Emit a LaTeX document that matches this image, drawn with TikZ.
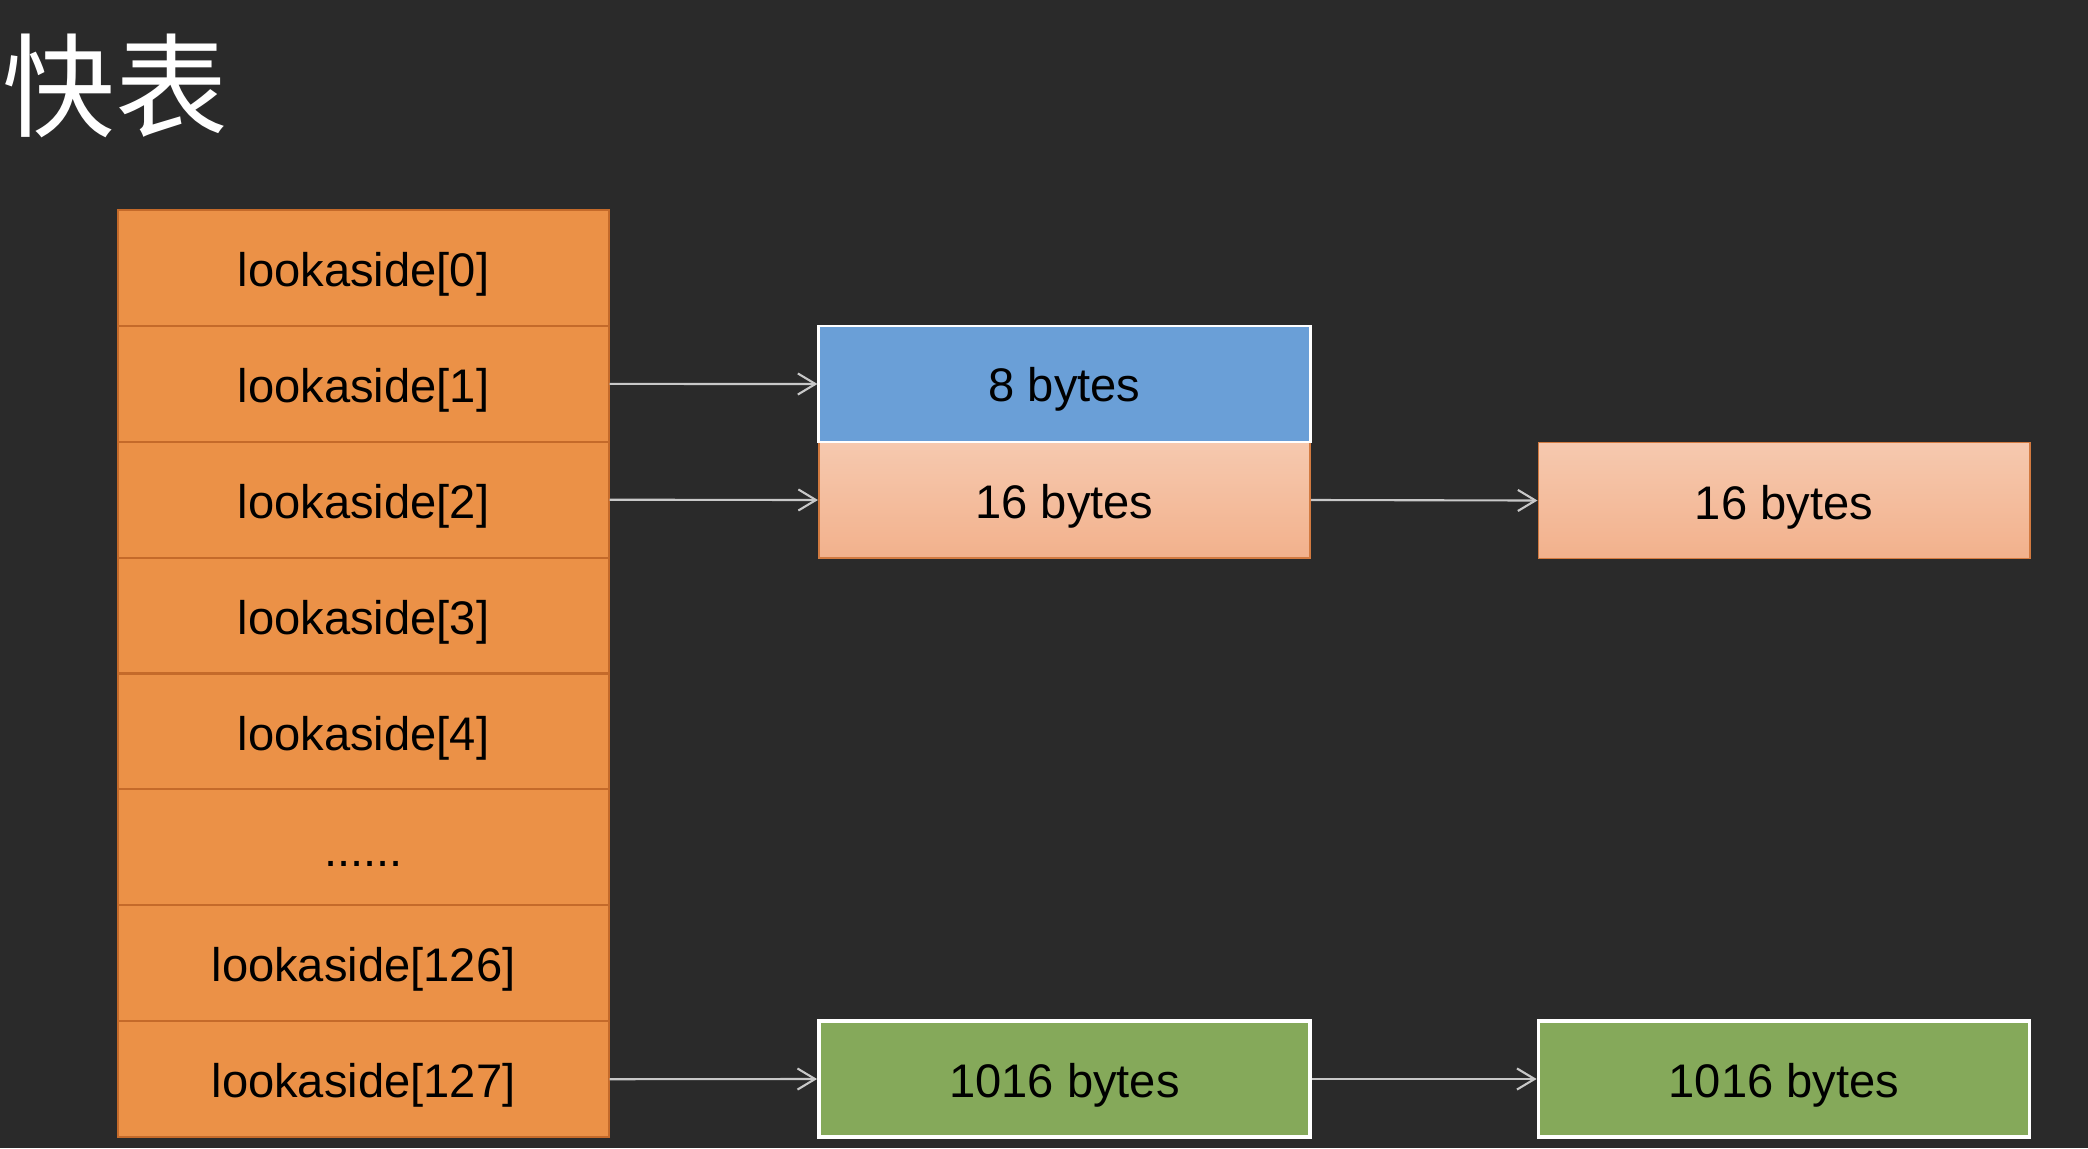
\documentclass[tikz,border=0pt]{standalone}
\usepackage{fontspec}
\setmainfont{Liberation Sans}
\newfontfamily\cjk{Noto Sans CJK SC}
\usetikzlibrary{arrows.meta}
\definecolor{bg}{HTML}{2A2A2A}
\definecolor{orangefill}{HTML}{EB9147}
\definecolor{orangeline}{HTML}{C46A2A}
\definecolor{bluefill}{HTML}{6A9FD7}
\definecolor{peachtop}{HTML}{F6C9AF}
\definecolor{peachbot}{HTML}{F2B18C}
\definecolor{peachline}{HTML}{D27A40}
\definecolor{greenfill}{HTML}{85A95A}
\definecolor{arrowgray}{HTML}{C8C8C8}
\tikzset{
  boxtext/.style={text height=10.6pt, text depth=0pt, text=black, inner sep=0pt},
  cell/.style={boxtext, draw=orangeline, fill=orangefill, line width=0.6pt, minimum width=4.9cm, minimum height=1.159cm, anchor=center},
  bluebox/.style={boxtext, text height=9.8pt, draw=white, fill=bluefill, line width=0.8pt, minimum width=4.91cm, minimum height=1.16cm},
  peachbox/.style={boxtext, draw=peachline, top color=peachtop, bottom color=peachbot, line width=0.5pt, minimum width=4.91cm, minimum height=1.16cm},
  greenbox/.style={boxtext, draw=white, fill=greenfill, line width=1pt, minimum width=4.91cm, minimum height=1.16cm},
  conn/.style={draw=arrowgray, line width=0.6pt, -{Straight Barb[length=5pt,width=6pt]}}
}
\begin{document}
\begin{tikzpicture}[x=0.01cm,y=-0.01cm, font=\fontsize{13.4}{16}\selectfont]
\fill[bg] (0,0) rectangle (2088,1148);
\useasboundingbox (0,0) rectangle (2088,1148);
\node[anchor=west, text=white, inner sep=0pt, font=\cjk\fontsize{32}{36}\selectfont] (title) at (2,86) {快表};
\node[cell] (r0) at (363.5,267.9) {lookaside[0]};
\node[cell] (r1) at (363.5,383.9) {lookaside[1]};
\node[cell] (r2) at (363.5,499.7) {lookaside[2]};
\node[cell] (r3) at (363.5,615.6) {lookaside[3]};
\node[cell] (r4) at (363.5,731.5) {lookaside[4]};
\node[cell] (r5) at (363.5,847.4) {......};
\node[cell] (r6) at (363.5,963.3) {lookaside[126]};
\node[cell] (r7) at (363.5,1079.2) {lookaside[127]};
\node[peachbox] (p1) at (1064.5,500) {16 bytes};
\node[bluebox] (b1) at (1064.5,384) {8 bytes};
\node[peachbox] (p2) at (1784,500.5) {16 bytes};
\node[greenbox] (g1) at (1064.5,1079) {1016 bytes};
\node[greenbox] (g2) at (1784,1079) {1016 bytes};
\draw[conn] (r1.east) -- (b1.west);
\draw[conn] (r2.east) -- (p1.west);
\draw[conn] (p1.east) -- (p2.west);
\draw[conn] (r7.east) -- (g1.west);
\draw[conn] (g1.east) -- (g2.west);
\end{tikzpicture}
\end{document}
